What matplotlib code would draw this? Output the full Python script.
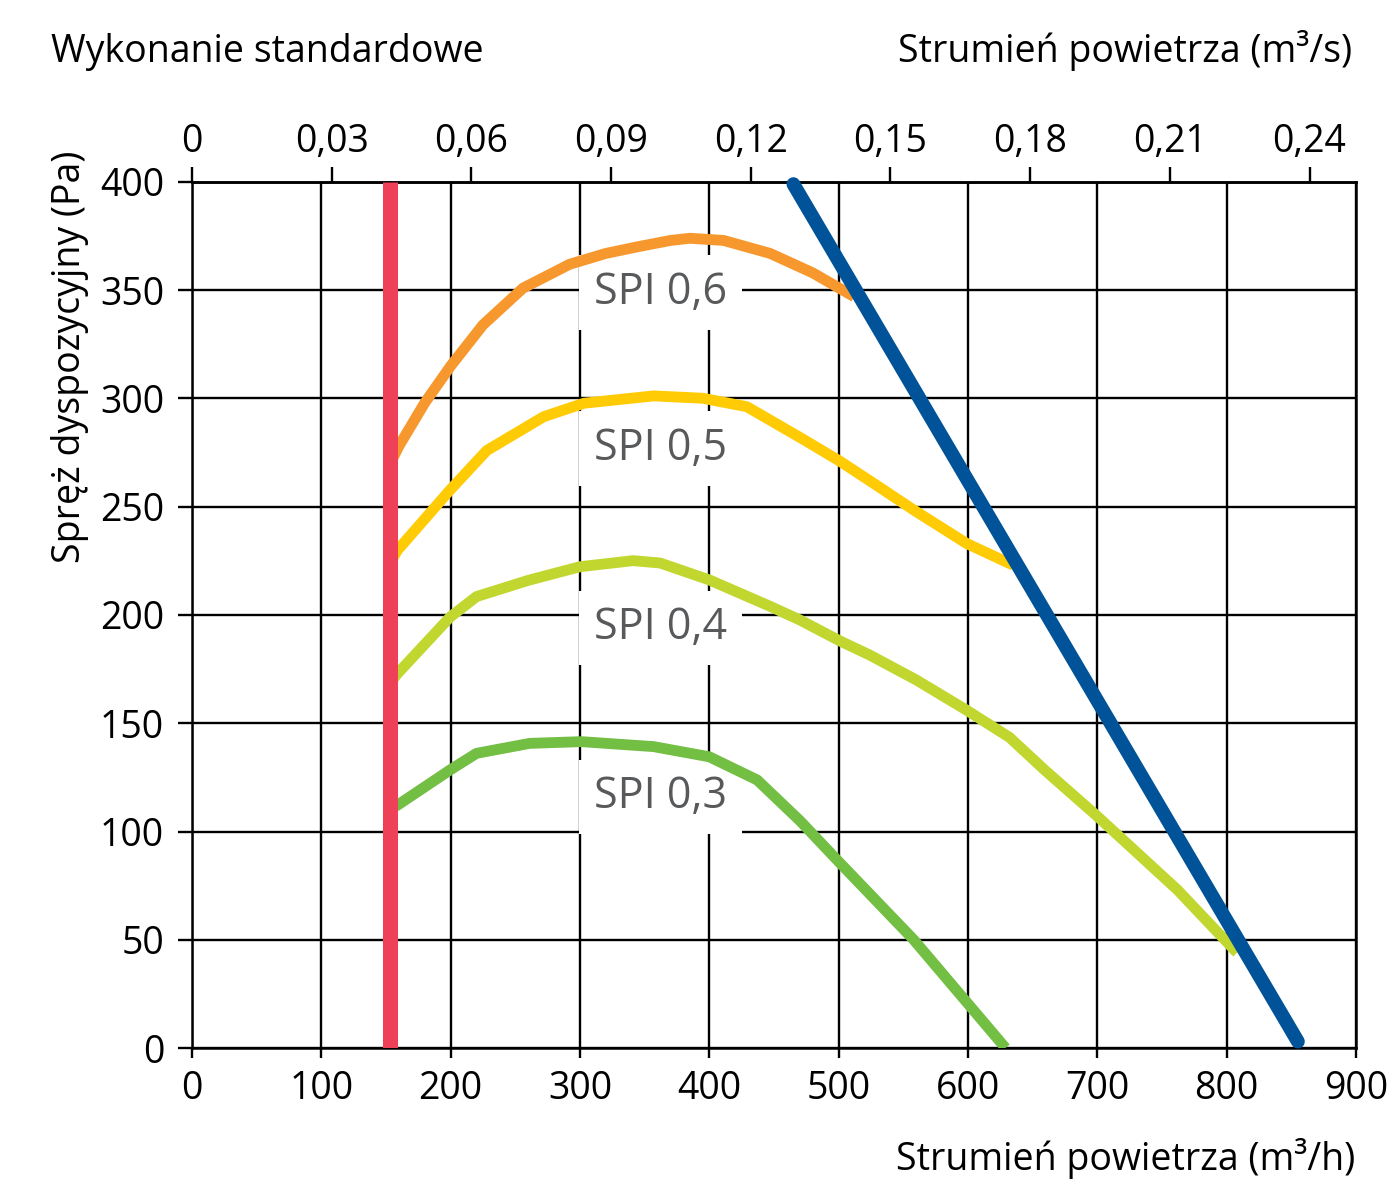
import matplotlib
matplotlib.use("Agg")
import matplotlib.pyplot as plt

plt.rcParams['font.family'] = ['Open Sans', 'DejaVu Sans']

# SPI curves, air flow (m3/h) vs available pressure (Pa)
spi06_x = [155, 160, 180, 200, 225, 256, 292, 320, 344, 370, 385, 411, 447, 480, 512]
spi06_y = [272, 278, 298, 315, 334, 351, 362, 367, 370, 373, 374, 373, 367, 358, 347]

spi05_x = [155, 159, 199.5, 228, 272, 303, 357, 395, 429, 473, 501, 524, 558, 599, 635]
spi05_y = [226, 230, 257.7, 276, 291.6, 297.8, 301.2, 300.1, 296.2, 281, 271, 262, 248.5, 233, 223]

spi04_x = [155, 159, 199.5, 220, 260, 300, 341, 362, 400, 447, 470, 501, 524, 560, 599, 632, 660, 700, 762, 808]
spi04_y = [170, 173, 199, 208.5, 216, 222.3, 225.1, 224, 216.2, 204, 197.7, 188, 181.5, 170, 156, 143.5, 128, 107, 73, 44]

spi03_x = [155, 159, 199.5, 220, 261, 301, 357, 400, 437, 470, 499, 558, 629]
spi03_y = [111, 112.2, 128.4, 136.1, 140.7, 141.5, 139.2, 134.5, 123.8, 105, 86.7, 50, 0]

limit_x = [465, 855]
limit_y = [399, 3]
min_flow = 153

spi_names = ["SPI 0,6", "SPI 0,5", "SPI 0,4", "SPI 0,3"]
label_x = 362
label_y = [349, 277, 194, 116]

xticks = [0, 100, 200, 300, 400, 500, 600, 700, 800, 900]
yticks = [0, 50, 100, 150, 200, 250, 300, 350, 400]
top_ticks = [0, 0.03, 0.06, 0.09, 0.12, 0.15, 0.18, 0.21, 0.24]

fig = plt.figure(figsize=(13.97, 11.98), dpi=100)
ax = fig.add_axes([0.1374, 0.1252, 0.8333, 0.7229])

curve_kw = dict(lw=7.8, zorder=4, solid_capstyle="butt", solid_joinstyle="round")
ax.plot(spi06_x, spi06_y, color="#F7982F", **curve_kw)
ax.plot(spi05_x, spi05_y, color="#FFCB05", **curve_kw)
ax.plot(spi04_x, spi04_y, color="#C1D72F", **curve_kw)
ax.plot(spi03_x, spi03_y, color="#72BF44", **curve_kw)
ax.axvline(min_flow, ymin=0, ymax=1, color="#EE4056", lw=10.8, zorder=5, solid_capstyle="butt")
ax.plot(limit_x, limit_y, color="#005299", lw=10, zorder=6, solid_capstyle="round", clip_on=False)

for name, ly in zip(spi_names, label_y):
    ax.text(label_x, ly, name, fontsize=31, color="#58595B", ha="center", va="center", zorder=3,
            bbox=dict(boxstyle="square,pad=0.35", fc="white", ec="none"))

ax.set_xlim(0, 900)
ax.set_ylim(0, 400)
ax.set_xticks(xticks)
ax.set_yticks(yticks)
ax.grid(True, color="black", lw=1.7)
ax.set_axisbelow(True)
for s in ax.spines.values():
    s.set_linewidth(1.8)
ax.tick_params(axis="x", length=7.5, width=1.7, pad=8, labelsize=27)
ax.tick_params(axis="y", length=10, width=1.7, pad=10, labelsize=27)

top = ax.secondary_xaxis("top", functions=(lambda v: v / 3600, lambda v: v * 3600))
top.set_xticks(top_ticks)
top.set_xticklabels([("%g" % t).replace(".", ",") for t in top_ticks])
top.tick_params(length=11, width=1.7, pad=4, labelsize=27)
top.spines["top"].set_linewidth(1.8)

fig.text(0.0365, 0.948, "Wykonanie standardowe", fontsize=27, ha="left", va="baseline")
fig.text(0.968, 0.948, "Strumień powietrza (m³/s)", fontsize=27, ha="right", va="baseline")
fig.text(0.970, 0.0234, "Strumień powietrza (m³/h)", fontsize=27, ha="right", va="baseline")
fig.text(0.050, 0.702, "Spręż dyspozycyjny (Pa)", fontsize=27, rotation=90, ha="center", va="center")

fig.savefig("out.png", dpi=100, facecolor="white")
